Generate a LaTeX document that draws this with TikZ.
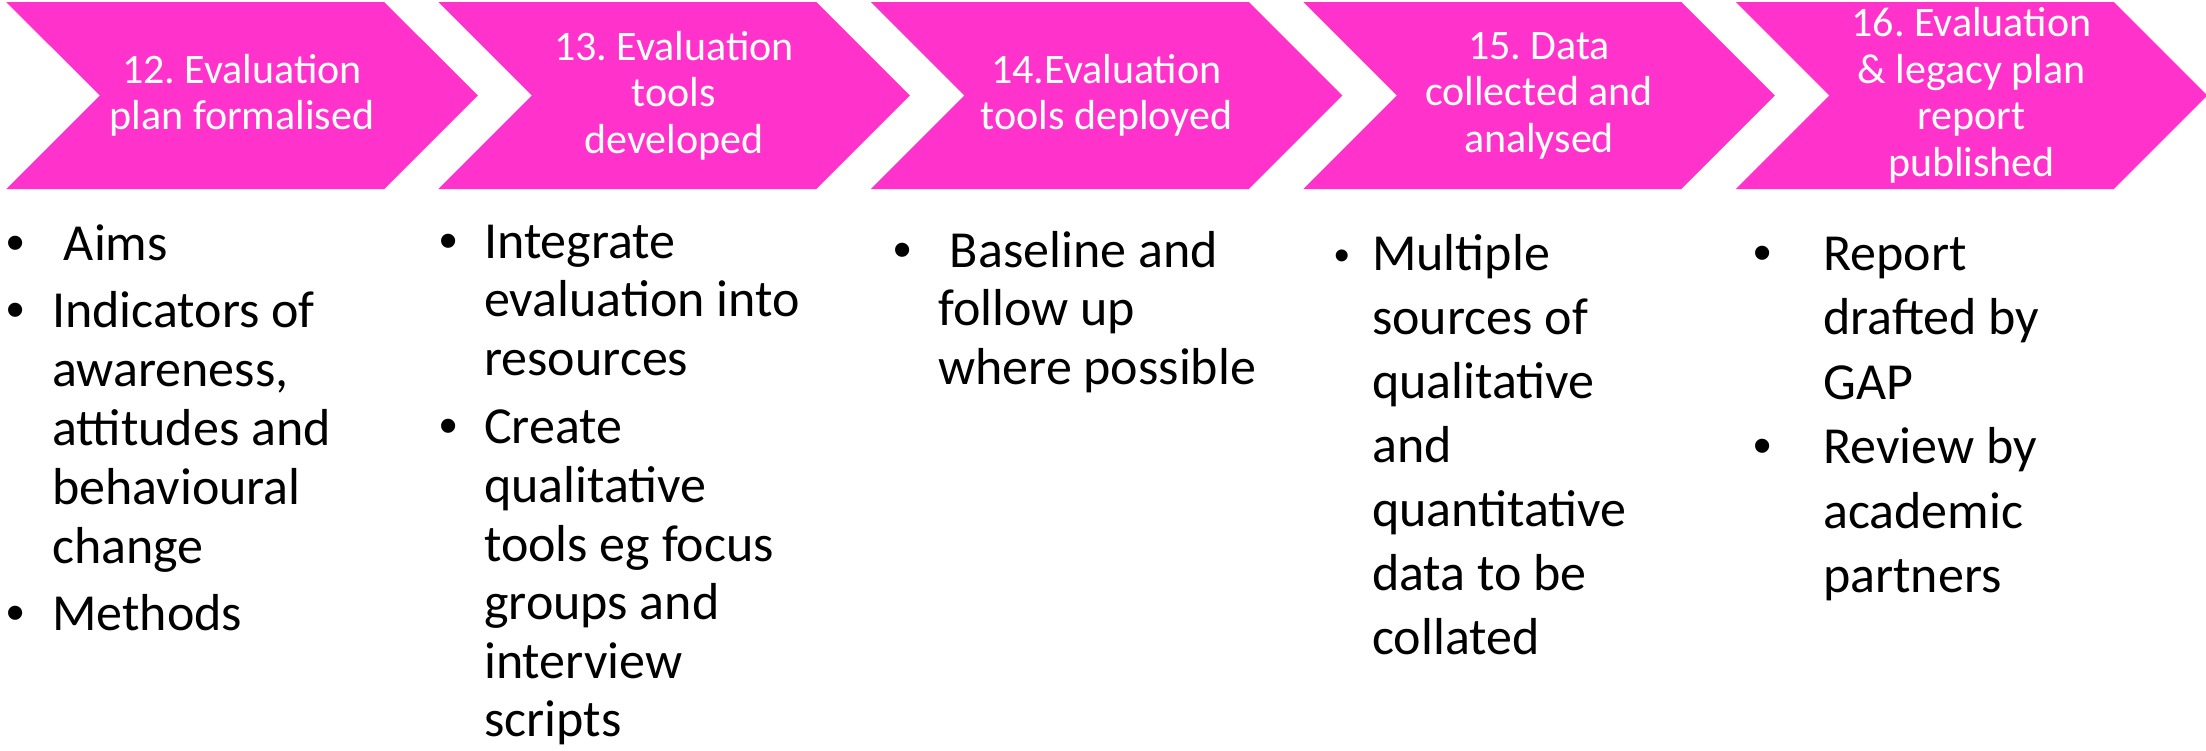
\documentclass[tikz,border=0pt]{standalone}
\usepackage{fontspec}
\setmainfont{Carlito}
\newfontfamily\bulletfont{Liberation Sans}
\usetikzlibrary{shapes.symbols}

\definecolor{chevpink}{HTML}{FF33CC}

% hanging bullet for the lists under the arrows
\newlength{\bulgap}
\newcommand{\bulsize}{52}
\newcommand{\bul}{\par\noindent\llap{{\fontsize{\bulsize}{\bulsize}\bulletfont\textbullet}\hspace{\bulgap}}}

\tikzset{
  stage/.style={signal, signal from=west, signal to=east, signal pointer angle=90,
    fill=chevpink, draw=none, inner sep=0pt, minimum width=471.5pt, minimum height=187pt,
    text=white, align=center, font=\fontsize{42}{46.5}\selectfont},
  listcol/.style={inner sep=0pt, anchor=base west, text=black}
}

\frenchspacing
\begin{document}
\begin{tikzpicture}[x=1pt,y=-1pt]
		\useasboundingbox (0,0) rectangle (2206,750);

		% the five stages
		\node (plan) at (242,95.5) [stage] {12. Evaluation\\plan formalised};
		\node (tools) at (674,95.5) [stage] {13. Evaluation\\tools\\developed};
		\node (deploy) at (1106.5,95.5) [stage] {14.Evaluation\\tools deployed};
		\node (data) at (1539,95.5) [stage] {15. Data\\collected and\\analysed};
		\node (report) at (1971.5,95.5) [stage] {16. Evaluation\\\& legacy plan\\report\\published};

		% what each stage involves
		\node (planlist) at (52,260) [listcol] {\parbox[t]{380pt}{\raggedright
			\fontsize{52}{59}\selectfont\setlength{\bulgap}{27.9pt}\setlength{\parskip}{8pt}
			\bul\ Aims
			\bul Indicators of\\awareness,\\attitudes and\\behavioural\\change
			\bul Methods}};

		\node (toolslist) at (484,258) [listcol] {\parbox[t]{380pt}{\raggedright
			\fontsize{52}{58.6}\selectfont\setlength{\bulgap}{26.9pt}\setlength{\parskip}{10pt}
			\bul Integrate\\evaluation into\\resources
			\bul Create\\qualitative\\tools eg focus\\groups and\\interview\\scripts}};

		\node (deploylist) at (938,267) [listcol] {\parbox[t]{380pt}{\raggedright
			\fontsize{52}{58.5}\selectfont\setlength{\bulgap}{26.9pt}
			\bul\ Baseline and\\follow up\\where possible}};

		\renewcommand{\bulsize}{44}
		\node (datalist) at (1372,270) [listcol] {\parbox[t]{380pt}{\raggedright
			\fontsize{52}{64}\selectfont\setlength{\bulgap}{22.3pt}
			\bul Multiple\\sources of\\qualitative\\and\\quantitative\\data to be\\collated}};

		\renewcommand{\bulsize}{52}
		\node (reportlist) at (1823,270) [listcol] {\parbox[t]{380pt}{\raggedright
			\fontsize{52}{64.5}\selectfont\setlength{\bulgap}{51.9pt}
			\bul Report\\drafted by\\GAP
			\bul Review by\\academic\\partners}};

\end{tikzpicture}
\end{document}
